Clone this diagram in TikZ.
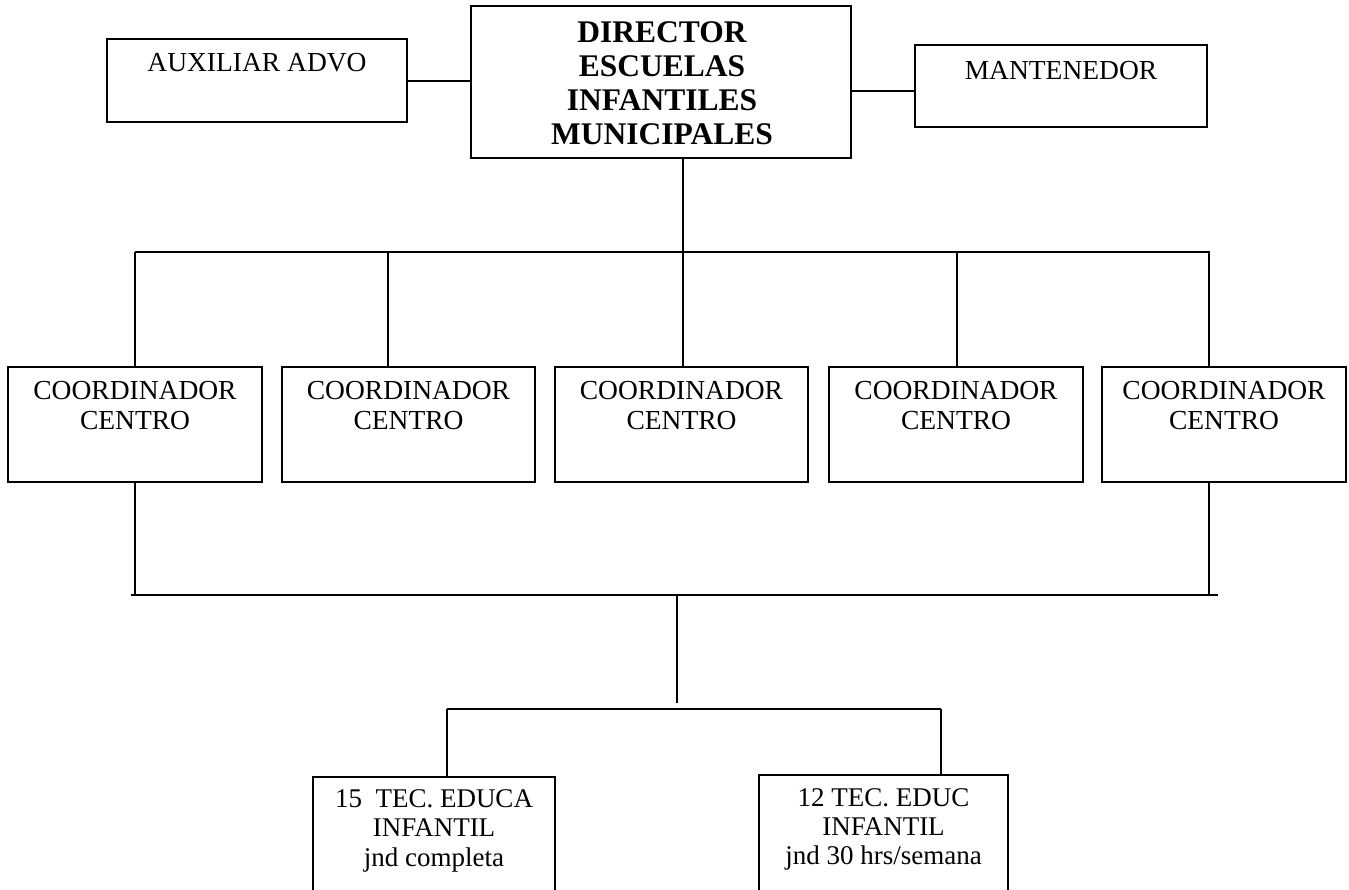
\documentclass[tikz,border=0pt]{standalone}
\usepackage{fontspec}
\setmainfont{Liberation Serif}
\begin{document}
\begin{tikzpicture}[x=1pt,y=-1pt,
  box/.style={draw, line width=1.6pt, rectangle, inner sep=0pt, outer sep=0pt},
  lbl/.style={anchor=base, align=center, inner sep=0pt, font=\fontsize{27.5}{29.5}\selectfont},
  blbl/.style={anchor=base, align=center, inner sep=0pt, font=\fontsize{31.5}{34}\selectfont\bfseries},
  conn/.style={line width=1.6pt}]
\useasboundingbox (0,0) rectangle (1349,890);
% top row
\node[box, minimum width=300pt, minimum height=83pt] (aux) at (257,80.5) {};
\node[box, minimum width=380pt, minimum height=152pt] (dir) at (661,82) {};
\node[box, minimum width=292pt, minimum height=82pt] (man) at (1061,86) {};
\node[lbl] (auxt) at (257,72) {AUXILIAR ADVO};
\node[blbl] (dirt) at (662,145) {DIRECTOR\\ESCUELAS\\INFANTILES\\MUNICIPALES};
\node[lbl] (mant) at (1061,80) {MANTENEDOR};
% coordinators
\foreach \n/\cx/\w in {1/135/254, 2/408.5/253, 3/681.5/253, 4/956/254, 5/1224/244}{
  \node[box, minimum width=\w pt, minimum height=115pt] (c\n) at (\cx,424.5) {};
  \node[lbl] (c\n t) at (\cx,429) {COORDINADOR\\CENTRO};
}
% bottom boxes
\node[box, minimum width=242pt, minimum height=120pt] (b1) at (434,837) {};
\node[box, minimum width=249pt, minimum height=122pt] (b2) at (883.5,836) {};
\node[lbl, font=\fontsize{27}{29.5}\selectfont] (b1t) at (434,866) {15~ TEC. EDUCA\\INFANTIL\\jnd completa};
\node[lbl, font=\fontsize{27}{29}\selectfont] (b2t) at (883.5,864) {12 TEC. EDUC\\INFANTIL\\jnd 30 hrs/semana};
% coordinates
\coordinate (ay) at (0,81);
\coordinate (my) at (0,91);
\coordinate (dtop) at (683,158);
\coordinate (bl) at (135,252);
\coordinate (br) at (1210,252);
\coordinate (dbar) at (683,252);
\coordinate (t1) at (135,252);
\coordinate (t2) at (388,252);
\coordinate (t3) at (683,252);
\coordinate (t4) at (957,252);
\coordinate (t5) at (1209,252);
\coordinate (l1) at (135,595);
\coordinate (l5) at (1209,595);
\coordinate (l2a) at (131,595);
\coordinate (l2b) at (1218,595);
\coordinate (m1) at (677,595);
\coordinate (m2) at (677,703);
\coordinate (s1) at (447,709);
\coordinate (s2) at (941,709);
% connectors
\draw[conn] (aux.east |- ay) -- (dir.west |- ay);
\draw[conn] (dir.east |- my) -- (man.west |- my);
\draw[conn] (dtop) -- (dbar);
\draw[conn] (bl) -- (br);
\foreach \n in {1,...,5}{ \draw[conn] (t\n) -- (t\n |- c\n.north); }
\draw[conn] (l1 |- c1.south) -- (l1);
\draw[conn] (l5 |- c5.south) -- (l5);
\draw[conn] (l2a) -- (l2b);
\draw[conn] (m1) -- (m2);
\draw[conn] (s1) -- (s2);
\draw[conn] (s1) -- (s1 |- b1.north);
\draw[conn] (s2) -- (s2 |- b2.north);
\end{tikzpicture}
\end{document}
